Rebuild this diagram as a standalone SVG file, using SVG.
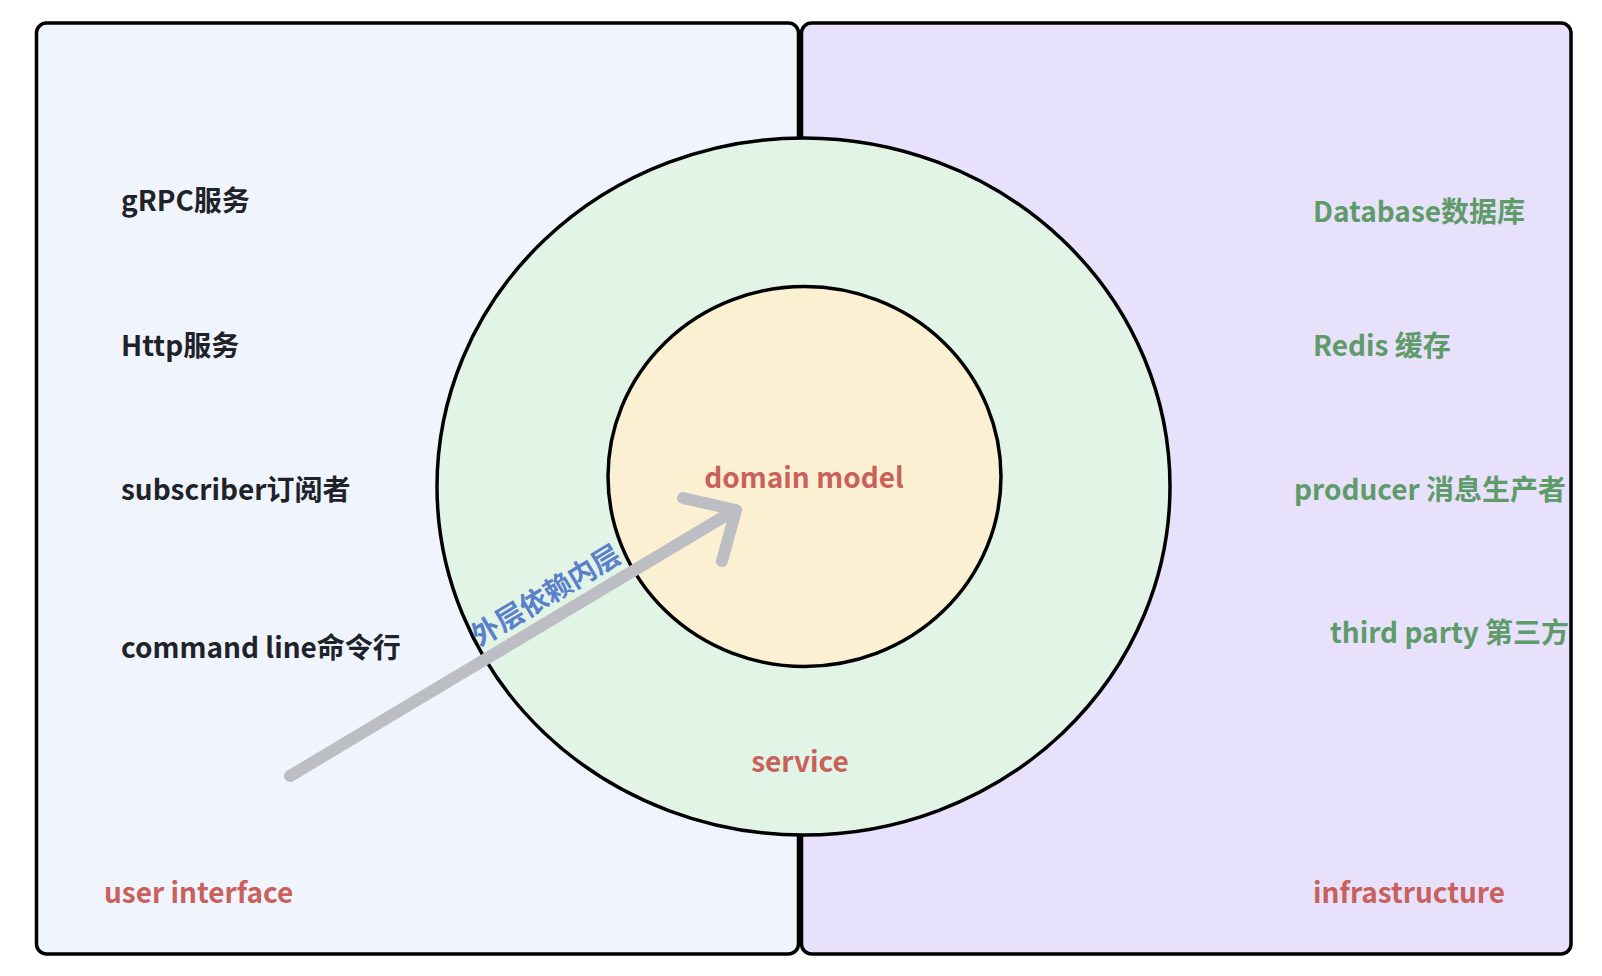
<svg xmlns="http://www.w3.org/2000/svg" width="1602" height="976" viewBox="0 0 1602 976">
<style>
.t{font-family:"Noto Sans CJK SC","Noto Sans",sans-serif;font-weight:700;font-size:28px}
.dk{fill:#1f2329}
.gr{fill:#5e9b69}
.rd{fill:#c9605c}
.bl{fill:#5a7fcb}
.panel{stroke:#000;stroke-width:3.5}
.ring{stroke:#000;stroke-width:3.5}
</style>
<rect width="1602" height="976" fill="#ffffff"/>
<g id="user-interface">
<rect class="panel" x="36.5" y="23" width="762" height="931" rx="10" fill="#f0f4fd"/>
</g>
<g id="infrastructure">
<rect class="panel" x="801.5" y="23" width="769.5" height="931" rx="10" fill="#e7e1fb"/>
</g>
<g id="service">
<ellipse class="ring" cx="803.5" cy="486.5" rx="366.5" ry="348.5" fill="#e2f4e6"/>
</g>
<g id="domain-model">
<ellipse class="ring" cx="804.5" cy="476.5" rx="196.5" ry="190" fill="#fcf0d2"/>
</g>
<g id="labels">
<text class="t dk" x="121" y="211">gRPC服务</text>
<text class="t dk" x="121" y="356">Http服务</text>
<text class="t dk" x="121" y="500">subscriber订阅者</text>
<text class="t dk" x="121" y="658">command line命令行</text>
<text class="t rd" x="104" y="903">user interface</text>
<text class="t gr" x="1313" y="222">Database数据库</text>
<text class="t gr" x="1313" y="356">Redis 缓存</text>
<text class="t gr" x="1294" y="500">producer 消息生产者</text>
<text class="t gr" x="1330" y="643">third party 第三方</text>
<text class="t rd" x="1313" y="903">infrastructure</text>
<text class="t rd" x="804" y="488" text-anchor="middle">domain model</text>
<text class="t rd" x="800" y="772" text-anchor="middle">service</text>
</g>
<g id="connectors" fill="none" stroke="#bcbec3" stroke-width="12" stroke-linecap="round" stroke-linejoin="round">
<path d="M290 776 L735 510"/>
<path d="M683 498 L736 510 L722 561"/>
<text class="t bl" stroke="none" font-size="26" transform="translate(479 647) rotate(-31)">外层依赖内层</text>
</g>
</svg>
